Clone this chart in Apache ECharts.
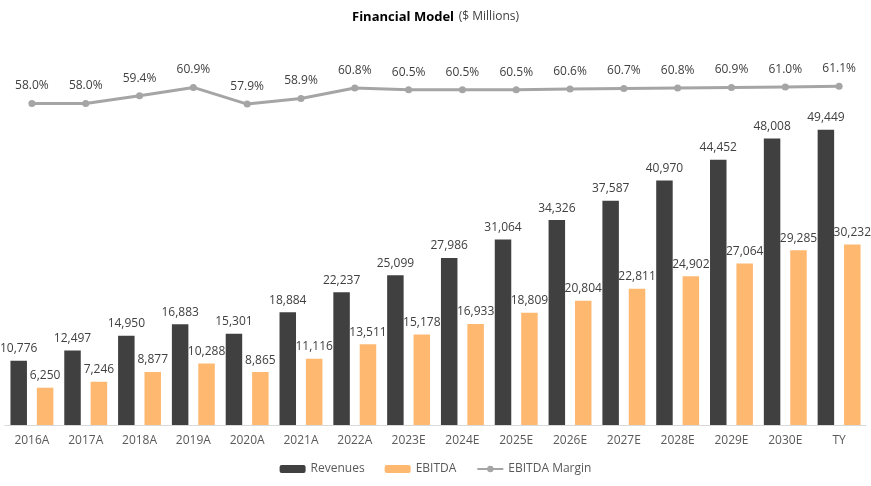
<!DOCTYPE html>
<html><head><meta charset="utf-8">
<script src="https://cdn.jsdelivr.net/npm/echarts@6/dist/echarts.min.js"></script>
<style>html,body{margin:0;padding:0;background:#fff}#c{width:871px;height:486px}</style>
</head><body><div id="c"></div>
<script>
const categories = ['2016A','2017A','2018A','2019A','2020A','2021A','2022A','2023E','2024E','2025E','2026E','2027E','2028E','2029E','2030E','TY'];
const revenues = [10776,12497,14950,16883,15301,18884,22237,25099,27986,31064,34326,37587,40970,44452,48008,49449];
const ebitda = [6250,7246,8877,10288,8865,11116,13511,15178,16933,18809,20804,22811,24902,27064,29285,30232];
const margin = [58.0,58.0,59.4,60.9,57.9,58.9,60.8,60.5,60.5,60.5,60.6,60.7,60.8,60.9,61.0,61.1];

const font = '"Open Sans", sans-serif';
const chart = echarts.init(document.getElementById('c'));
chart.setOption({
  animation: false,
  textStyle: {fontFamily: font},
  title: {
    text: '{b|Financial Model} {n|($ Millions)}',
    left: 'center', top: 3,
    textStyle: {fontWeight: 'normal', rich: {
      b: {fontFamily: font, fontWeight: 'bold', fontSize: 13, color: '#000'},
      n: {fontFamily: font, fontWeight: 'normal', fontSize: 12, color: '#404040'}
    }}
  },
  legend: {
    bottom: 6, itemGap: 20, itemWidth: 26, itemHeight: 8,
    textStyle: {fontFamily: font, fontSize: 12, color: '#595959'},
    data: ['Revenues','EBITDA','EBITDA Margin']
  },
  grid: {left: 5, right: 5, top: 37, bottom: 61, containLabel: false},
  xAxis: {
    type: 'category', data: categories,
    axisLine: {lineStyle: {color: '#d9d9d9'}},
    axisTick: {show: false},
    axisLabel: {color: '#595959', fontSize: 12, margin: 10, fontFamily: font}
  },
  yAxis: [
    {type: 'value', min: 0, max: 65000, show: false, splitLine: {show: false}},
    {type: 'value', min: 0, max: 70, show: false, splitLine: {show: false}}
  ],
  series: [
    {name: 'Revenues', type: 'bar', data: revenues, barWidth: 16.5, barGap: '60%',
     itemStyle: {color: '#404040'},
     label: {show: true, position: 'top', distance: 6, color: '#404040', fontSize: 12, fontFamily: font,
       formatter: p => p.value.toLocaleString('en-US')}},
    {name: 'EBITDA', type: 'bar', data: ebitda, barWidth: 16.5,
     itemStyle: {color: '#ffb870'},
     label: {show: true, position: 'top', distance: 6, color: '#404040', fontSize: 12, fontFamily: font,
       formatter: p => p.value.toLocaleString('en-US')}},
    {name: 'EBITDA Margin', type: 'line', yAxisIndex: 1, data: margin,
     symbol: 'circle', symbolSize: 7,
     lineStyle: {color: '#a5a5a5', width: 3}, itemStyle: {color: '#a5a5a5'},
     label: {show: true, position: 'top', distance: 8, color: '#404040', fontSize: 12, fontFamily: font,
       formatter: p => p.value.toFixed(1) + '%'}}
  ]
});
</script></body></html>
